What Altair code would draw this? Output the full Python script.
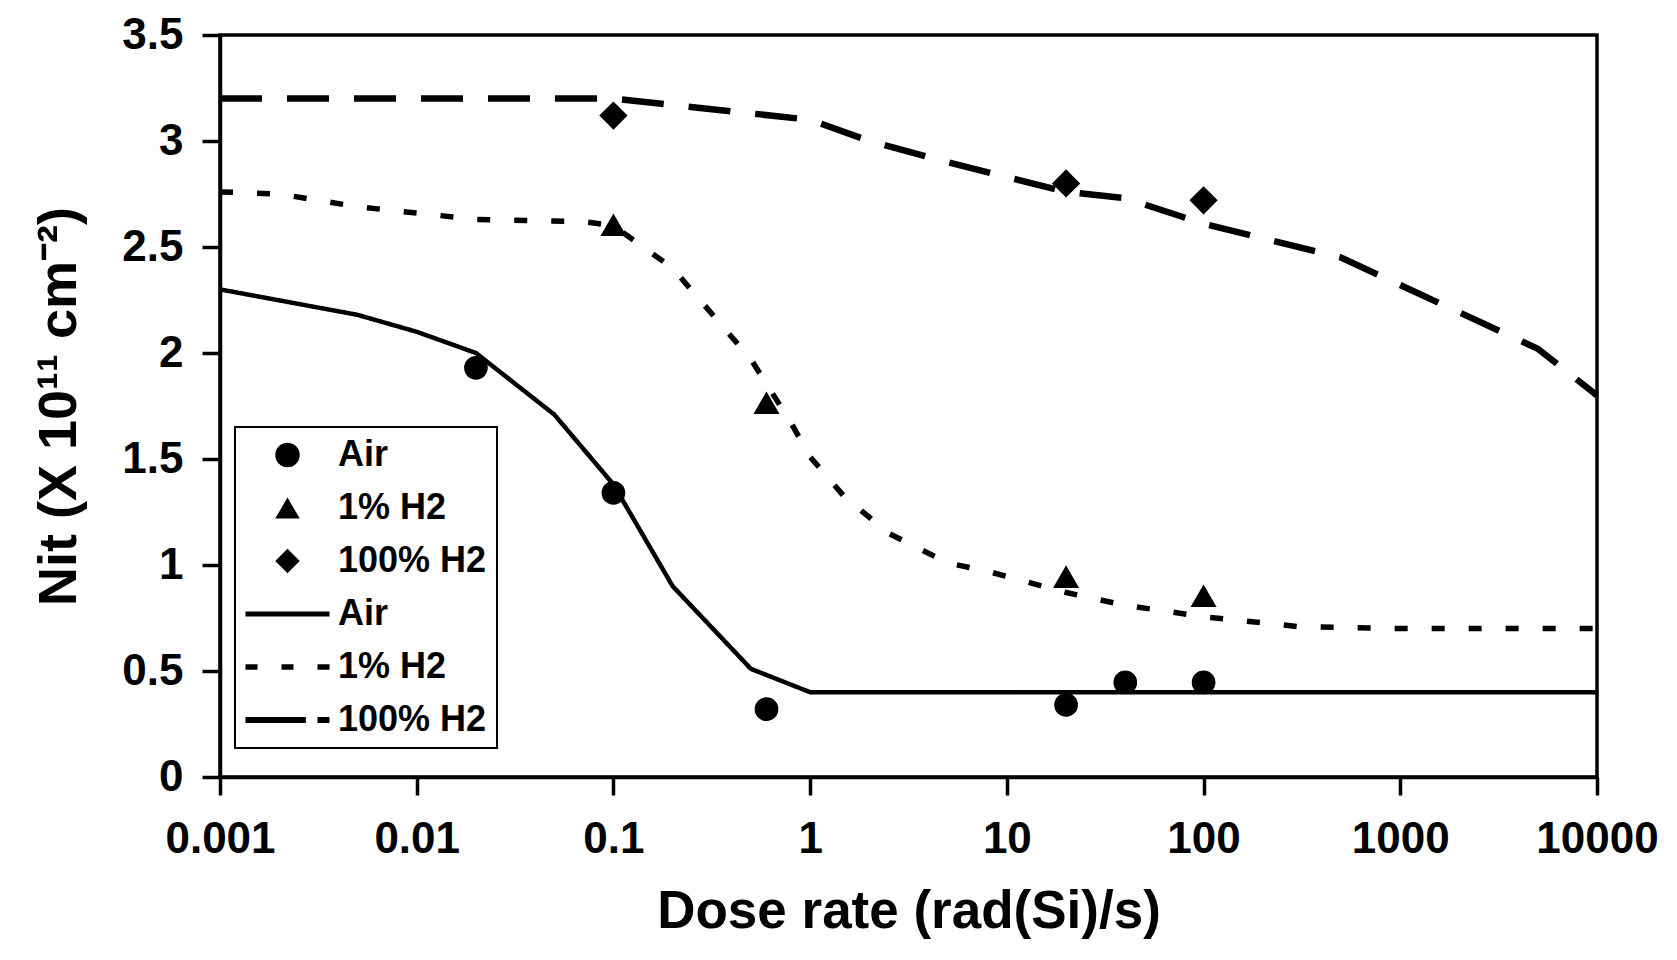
import altair as alt
import pandas as pd

# ---------------- data ----------------
series_names = ["Air", "1% H2", "100% H2"]

# measured points
air_x = [0.02, 0.1, 0.6, 20, 40, 100]
air_y = [1.93, 1.34, 0.32, 0.34, 0.446, 0.446]
h1_x = [0.1, 0.6, 20, 100]
h1_y = [2.605, 1.765, 0.945, 0.855]
h100_x = [0.1, 20, 100]
h100_y = [3.12, 2.80, 2.72]

# model curves
air_fit_x = [0.001, 0.005, 0.01, 0.02, 0.05, 0.1, 0.2, 0.5, 1, 10000]
air_fit_y = [2.30, 2.18, 2.10, 2.00, 1.71, 1.38, 0.90, 0.51, 0.40, 0.40]
h1_fit_x = [0.001, 0.002, 0.005, 0.02, 0.07, 0.1, 0.2, 0.5, 0.8, 1, 1.5, 2.5, 5, 8, 20, 40, 100, 300, 1000, 10000]
h1_fit_y = [2.76, 2.75, 2.69, 2.63, 2.62, 2.60, 2.40, 1.97, 1.67, 1.51, 1.32, 1.15, 1.01, 0.97, 0.87, 0.81, 0.756, 0.71, 0.70, 0.70]
h100_fit_x = [0.001, 0.1, 1, 2, 5, 20, 40, 100, 500, 5000, 10000]
h100_fit_y = [3.20, 3.20, 3.10, 3.00, 2.90, 2.76, 2.73, 2.61, 2.45, 2.02, 1.80]

x_ticks = [0.001, 0.01, 0.1, 1, 10, 100, 1000, 10000]
y_ticks = [0, 0.5, 1, 1.5, 2, 2.5, 3, 3.5]

# legend entries: three marker entries, then three line entries
legend_labels = ["Air", "1% H2", "100% H2", "Air ", "1% H2 ", "100% H2 "]
legend_shapes = [
    "circle",
    "triangle-up",
    "diamond",
    "M-3.43,-0.2H3.43V0.2H-3.43Z",
    "M-3.43,-0.22H-2.45V0.22H-3.43ZM-0.49,-0.22H0.49V0.22H-0.49ZM2.45,-0.22H3.43V0.22H2.45Z",
    "M-3.43,-0.24H1.5V0.24H-3.43ZM2.45,-0.24H3.43V0.24H2.45Z",
]

# ---------------- tables ----------------
pts = pd.concat([
    pd.DataFrame({"x": air_x, "y": air_y, "series": "Air"}),
    pd.DataFrame({"x": h1_x, "y": h1_y, "series": "1% H2"}),
    pd.DataFrame({"x": h100_x, "y": h100_y, "series": "100% H2"}),
], ignore_index=True)

fits = pd.concat([
    pd.DataFrame({"x": air_fit_x, "y": air_fit_y, "series": "Air"}),
    pd.DataFrame({"x": h1_fit_x, "y": h1_fit_y, "series": "1% H2"}),
    pd.DataFrame({"x": h100_fit_x, "y": h100_fit_y, "series": "100% H2"}),
], ignore_index=True)

FONT = "Liberation Sans"

x_enc = alt.X(
    "x:Q",
    title="Dose rate (rad(Si)/s)",
    scale=alt.Scale(type="log", domain=[0.001, 10000]),
    axis=alt.Axis(
        values=x_ticks, format="~g", grid=False,
        labelFlush=False, labelOverlap=False,
        labelFont=FONT, labelFontSize=44, labelFontWeight="bold", labelColor="black",
        labelBaseline="alphabetic", labelPadding=57,
        tickSize=18, tickWidth=3.5, tickColor="black",
        domainColor="black", domainWidth=3.5,
        titleFont=FONT, titleFontSize=53, titleFontWeight="bold", titleColor="black",
        titleX=688.5, titleY=150, titleBaseline="alphabetic", titleAlign="center",
    ),
)
y_enc = alt.Y(
    "y:Q",
    title="Nit (X 10¹¹ cm⁻²)",
    scale=alt.Scale(domain=[0, 3.5]),
    axis=alt.Axis(
        values=y_ticks, format="~g", grid=False,
        labelFlush=False, labelOverlap=False,
        labelFont=FONT, labelFontSize=44, labelFontWeight="bold", labelColor="black",
        labelPadding=19,
        tickSize=18, tickWidth=3.5, tickColor="black",
        domainColor="black", domainWidth=3.5,
        titleFont=FONT, titleFontSize=54, titleFontWeight="bold", titleColor="black",
        titleX=-145, titleY=371, titleBaseline="alphabetic", titleAlign="center",
        titleAngle=270,
    ),
)

lines = alt.Chart(fits).mark_line(color="black", strokeCap="butt", strokeJoin="miter").encode(
    x=x_enc,
    y=y_enc,
    strokeDash=alt.StrokeDash(
        "series:N",
        scale=alt.Scale(domain=series_names, range=[[1, 0], [13, 24], [42, 25]]),
        legend=None,
    ),
    strokeWidth=alt.StrokeWidth(
        "series:N",
        scale=alt.Scale(domain=series_names, range=[4.5, 6.5, 7]),
        legend=None,
    ),
)

points = alt.Chart(pts).mark_point(filled=True, opacity=1, color="black").encode(
    x=x_enc,
    y=y_enc,
    shape=alt.Shape(
        "series:N",
        scale=alt.Scale(domain=legend_labels, range=legend_shapes),
        legend=alt.Legend(
            title=None, orient="none", legendX=15, legendY=392,
            strokeColor="black", padding=10,
            symbolSize=600, symbolStrokeWidth=0, symbolOpacity=1,
            symbolFillColor="black", symbolStrokeColor="black",
            symbolOffset=24.5, labelOffset=32.5, rowPadding=17,
            labelFont=FONT, labelFontSize=36, labelFontWeight="bold",
            labelColor="black", labelLimit=400,
        ),
    ),
    size=alt.Size(
        "series:N",
        scale=alt.Scale(domain=series_names, range=[560, 800, 760]),
        legend=None,
    ),
)

chart = (
    alt.layer(lines, points)
    .properties(
        width=1377, height=742,
        autosize=alt.AutoSizeParams(type="none"),
        padding={"left": 212, "top": 27, "right": 72, "bottom": 175},
        background="white",
    )
    .configure_view(stroke="black", strokeWidth=3.5)
    .configure_legend(strokeWidth=2)
)

chart.save("out.html", embed_options={"renderer": "svg", "actions": False})
